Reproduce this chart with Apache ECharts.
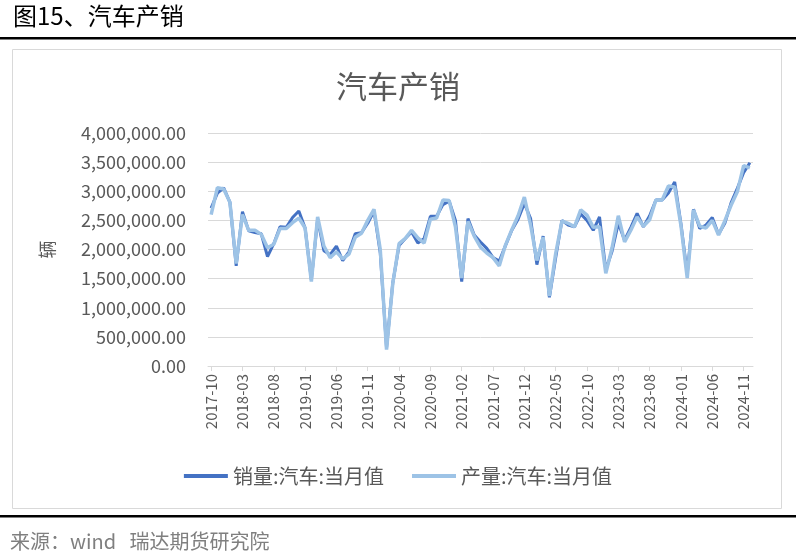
<!DOCTYPE html>
<html><head><meta charset="utf-8">
<script src="https://cdn.jsdelivr.net/npm/echarts@6/dist/echarts.min.js"></script>
<style>html,body{margin:0;padding:0;background:#fff}#c{width:796px;height:555px}</style>
</head><body><div id="c"></div>
<script>
function months(start, end) {
  var out = [], y = start[0], m = start[1];
  while (y < end[0] || (y === end[0] && m <= end[1])) {
    out.push(y + '-' + (m < 10 ? '0' + m : m));
    m++; if (m > 12) { m = 1; y++; }
  }
  return out;
}
var categories = months([2017, 10], [2024, 12]);
var sales = [2710000,2967000,3058000,2810000,1720000,2650000,2320000,2290000,2270000,1880000,2100000,2390000,
  2380000,2550000,2660000,2370000,1480000,2520000,1980000,1910000,2060000,1810000,1960000,2270000,
  2290000,2450000,2660000,1940000,310000,1430000,2070000,2190000,2300000,2110000,2190000,2570000,
  2570000,2770000,2830000,2500000,1450000,2530000,2250000,2130000,2020000,1860000,1800000,2070000,
  2330000,2520000,2790000,2530000,1740000,2230000,1180000,1860000,2500000,2420000,2390000,2610000,
  2500000,2330000,2560000,1650000,1970000,2450000,2160000,2380000,2620000,2390000,2580000,2850000,
  2850000,2970000,3160000,2440000,1580000,2690000,2360000,2420000,2550000,2260000,2450000,2800000,
  3050000,3320000,3490000];
var production = [2600000,3060000,3040000,2810000,1760000,2600000,2330000,2330000,2260000,2030000,2090000,2360000,
  2360000,2460000,2540000,2370000,1450000,2560000,2060000,1860000,1960000,1840000,1920000,2210000,
  2280000,2500000,2690000,2000000,280000,1420000,2100000,2190000,2330000,2200000,2110000,2520000,
  2540000,2850000,2840000,2390000,1510000,2480000,2230000,2040000,1940000,1860000,1720000,2080000,
  2340000,2580000,2900000,2420000,1810000,2210000,1200000,1930000,2490000,2450000,2390000,2680000,
  2590000,2380000,2390000,1590000,2030000,2580000,2130000,2330000,2560000,2400000,2510000,2850000,
  2850000,3090000,3075000,2410000,1510000,2680000,2400000,2370000,2500000,2250000,2490000,2760000,
  2990000,3440000,3400000];
var seriesNames = ['销量:汽车:当月值', '产量:汽车:当月值'];
var yTicks = [0, 500000, 4000000];

var font = '"Microsoft YaHei","Noto Sans CJK SC","Noto Sans",sans-serif';
var chart = echarts.init(document.getElementById('c'), null, {renderer: 'canvas'});
function fmt(v) {
  return v.toLocaleString('en-US', {minimumFractionDigits: 2, maximumFractionDigits: 2});
}
chart.setOption({
  animation: false,
  textStyle: {fontFamily: font},
  title: {
    text: '汽车产销', left: 'center', top: 66,
    textStyle: {fontSize: 31, fontWeight: 'normal', color: '#595959', fontFamily: font}
  },
  graphic: [
    {type: 'text', left: 13, top: 4, style: {text: '图15、汽车产销', fontSize: 24, fill: '#000', fontFamily: font}},
    {type: 'rect', shape: {x: 0, y: 37, width: 796, height: 2.5}, style: {fill: '#000'}},
    {type: 'rect', shape: {x: 12.5, y: 49.5, width: 769, height: 459}, style: {fill: 'none', stroke: '#d9d9d9', lineWidth: 1}, z: -1},
    {type: 'rect', shape: {x: 0, y: 515, width: 796, height: 2.5}, style: {fill: '#000'}},
    {type: 'text', left: 10, top: 531, style: {text: '来源：wind   瑞达期货研究院', fontSize: 20, fill: '#7f7f7f', fontFamily: font}}
  ],
  legend: {
    bottom: 64, left: 'center', itemGap: 28, itemWidth: 44, itemHeight: 4, icon: 'rect',
    textStyle: {fontSize: 20, color: '#595959', fontFamily: font},
    data: seriesNames
  },
  grid: {left: 208, right: 43, top: 133, bottom: 189},
  xAxis: {
    type: 'category', data: categories, boundaryGap: true,
    axisLine: {lineStyle: {color: '#d9d9d9', width: 1}},
    axisTick: {show: true, alignWithLabel: true, interval: 4, length: 5, lineStyle: {color: '#d9d9d9'}},
    axisLabel: {interval: 4, rotate: 90, fontSize: 15, color: '#595959', margin: 8, fontFamily: font}
  },
  yAxis: {
    type: 'value', min: yTicks[0], max: yTicks[2], interval: yTicks[1],
    name: '辆', nameLocation: 'middle', nameGap: 152, nameRotate: 90,
    nameTextStyle: {fontSize: 18, color: '#595959', fontFamily: font},
    axisLine: {show: false}, axisTick: {show: false},
    splitLine: {lineStyle: {color: '#d9d9d9', width: 1}},
    axisLabel: {formatter: fmt, fontSize: 18, color: '#595959', margin: 22, fontFamily: font}
  },
  series: [
    {name: seriesNames[0], type: 'line', data: sales, symbol: 'none', lineStyle: {color: '#4472C4', width: 3}, itemStyle: {color: '#4472C4'}},
    {name: seriesNames[1], type: 'line', data: production, symbol: 'none', lineStyle: {color: '#9DC3E6', width: 3.5}, itemStyle: {color: '#9DC3E6'}}
  ]
});
</script></body></html>
